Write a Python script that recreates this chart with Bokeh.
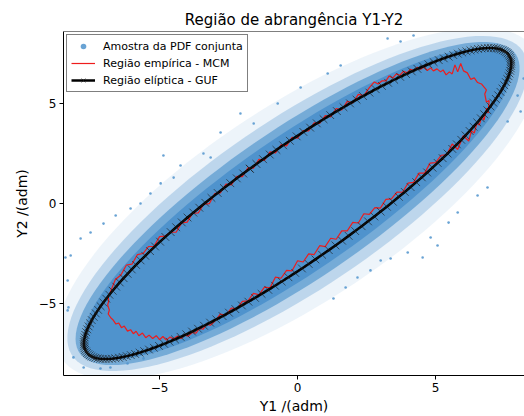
import numpy as np
from bokeh.plotting import figure
from bokeh.models import FixedTicker, Legend, LegendItem, Span
from bokeh.embed import file_html
from bokeh.resources import INLINE

# ---------------- data ----------------
title_text = "Região de abrangência Y1-Y2"
x_label = "Y1 /(adm)"
y_label = "Y2 /(adm)"
tick_values = [-5, 0, 5]
tick_labels = {-5: "−5", 0: "0", 5: "5"}
x_limits = (-8.48, 8.22)
y_limits = (-8.56, 8.56)

# GUF: estimate, covariance matrix and 95 % coverage factor (k^2)
y_hat = [0.0, 0.0]
u_y = [[10.0, 9.0], [9.0, 10.0]]
k2_95 = 5.991
n_ellipse = 200

# Sample cloud (PDF conjunta): envelopes of decreasing density
cloud_a = [11.6, 11.2, 10.9, 10.6]      # semi-axis along major direction
cloud_b = [4.3, 3.7, 3.25, 2.9]         # semi-axis along minor direction
cloud_alpha = [0.1, 0.3, 0.65, 1.0]

# isolated sample points
sample_x = [-4.86, -8.22, -7.86, -7.03, -7.50, -6.59, -5.69, -6.05, -4.96, -4.24, -3.41, -5.33, -4.49,
            3.99, 4.53, 3.37, 5.07, 5.47, 6.52, 6.88, 1.30, 1.74, 2.17, 2.64, 3.01, 4.82, 5.80,
            3.26, 4.20, 3.73, 7.97, 8.08, 7.61, 8.19,
            -8.33, -8.12, -7.75, -6.78, -6.16, -5.58, -7.14,
            -8.41, -8.33, -8.30,
            -2.79, -2.07, -0.72, 0.11, 1.09, 1.56, -1.59, -3.15]
sample_y = [2.39, -2.59, -1.74, -1.00, -1.44, -0.60, 0.00, -0.25, 1.00, 1.89, 2.49, 0.50, 1.29,
            -2.44, -2.69, -2.74, -2.09, -0.95, 0.40, 0.80, -4.73, -4.18, -3.68, -3.33, -2.84, -1.69, -0.45,
            8.21, 8.36, 8.06, 5.37, 4.58, 4.08, 6.22,
            -5.32, -7.66, -8.16, -8.16, -7.96, -7.71, -8.21,
            -2.69, -3.83, -5.17,
            3.53, 4.48, 4.98, 5.77, 6.47, 6.87, 3.98, 2.29]

# empirical (MCM) coverage region boundary
mcm_x = [-6.86, -6.84, -6.88, -6.82, -6.86, -6.76, -6.68, -6.58, -6.48, -6.38, -6.28, -6.16, -6.05,
         -5.95, -5.85, -5.75, -5.62, -5.50, -5.38, -5.25, -5.12, -5.00, -4.88, -4.75, -4.62, -4.50,
         -4.36, -4.22, -4.10, -3.96, -3.82, -3.68, -3.55, -3.42, -3.30, -3.15,
         -3.0, -2.8, -2.6, -2.4, -2.2, -2.0, -1.8, -1.6, -1.4, -1.2, -1.0, -0.8, -0.6, -0.4, -0.2,
         0.0, 0.2, 0.4, 0.6, 0.8, 1.0, 1.2, 1.4, 1.6, 1.8, 2.0, 2.2, 2.4, 2.6, 2.8, 3.0, 3.2, 3.4,
         3.6, 3.8, 4.0, 4.2, 4.4, 4.6, 4.8, 5.0, 5.2, 5.4, 5.6, 5.8, 6.0, 6.2,
         6.30, 6.40, 6.50, 6.58, 6.68, 6.75, 6.85, 6.90, 6.94, 6.84, 6.78, 6.84, 6.66, 6.52, 6.40,
         6.27, 6.15, 6.01, 5.91, 5.80, 5.70, 5.60, 5.50, 5.38, 5.27, 5.18, 5.05, 4.92, 4.82, 4.70,
         4.58, 4.46, 4.34, 4.22, 4.09, 3.96, 3.84, 3.70, 3.58, 3.45, 3.32, 3.20, 3.05, 2.92, 2.78,
         2.6, 2.4, 2.2, 2.0, 1.8, 1.6, 1.4, 1.2, 1.0, 0.8, 0.6, 0.4, 0.2, 0.0,
         -0.2, -0.4, -0.6, -0.8, -1.0, -1.2, -1.4, -1.6, -1.8, -2.0, -2.2, -2.4, -2.6, -2.8, -3.0,
         -3.2, -3.4, -3.6, -3.8, -4.0, -4.2, -4.4, -4.6, -4.8, -5.0, -5.2, -5.4, -5.6, -5.8, -6.0,
         -6.2, -6.4, -6.6, -6.8, -6.86]
mcm_y = [-4.62, -4.85, -5.05, -5.30, -5.50, -5.70, -5.80, -6.00, -5.95, -6.18, -6.10, -6.35, -6.28,
         -6.48, -6.36, -6.58, -6.45, -6.68, -6.55, -6.72, -6.58, -6.78, -6.62, -6.80, -6.64, -6.74,
         -6.60, -6.72, -6.55, -6.60, -6.42, -6.45, -6.22, -6.25, -6.02, -6.05,
         -5.86, -5.50, -5.57, -5.20, -5.24, -4.87, -4.85, -4.47, -4.55, -4.16, -4.20, -3.66, -3.72,
         -3.33, -3.35,
         -2.85, -2.91, -2.51, -2.54, -2.10, -2.15, -1.73, -1.78, -1.36, -1.36, -0.94, -0.97, -0.51,
         -0.54, -0.21, -0.23, 0.21, 0.23, 0.57, 0.56, 1.01, 1.05, 1.51, 1.51, 2.01, 2.03, 2.40, 2.42,
         2.96, 2.69, 3.37, 3.11,
         3.62, 3.50, 4.02, 3.90, 4.35, 4.15, 4.75, 4.50, 5.12, 5.05, 5.45, 5.65, 5.95, 6.02, 6.25,
         6.18, 6.50, 6.60, 6.97, 6.55, 6.90, 6.45, 6.55, 6.40, 6.65, 6.55, 6.70, 6.60, 6.75, 6.62,
         6.80, 6.68, 6.78, 6.60, 6.68, 6.50, 6.58, 6.38, 6.45, 6.25, 6.35, 6.10, 6.10, 5.95, 6.05,
         5.77, 5.37, 5.43, 5.01, 5.08, 4.66, 4.73, 4.31, 4.37, 3.98, 4.02, 3.61, 3.63, 3.25,
         3.29, 2.87, 2.92, 2.52, 2.57, 2.15, 2.20, 1.76, 1.78, 1.34, 1.35, 0.93, 0.96, 0.53, 0.49,
         -0.01, -0.03, -0.47, -0.48, -0.93, -0.97, -1.43, -1.43, -1.62, -1.65, -2.13, -2.14, -2.49,
         -2.54, -3.02,
         -3.06, -3.56, -3.78, -4.46, -4.62]

legend_labels = ["Amostra da PDF conjunta", "Região empírica - MCM", "Região elíptica - GUF"]

# ---------------- geometry from the GUF data ----------------
cov = np.array(u_y)
w, V = np.linalg.eigh(cov)               # w[0] minor, w[1] major
t = np.linspace(0.0, 2.0 * np.pi, n_ellipse)
unit = np.vstack([np.cos(t), np.sin(t)])
ell = np.array(y_hat)[:, None] + np.sqrt(k2_95) * (V @ (np.sqrt(w)[:, None] * unit))
v_minor, v_major = V[:, 0], V[:, 1]

FONT = "DejaVu Sans"
BLUE = "#4f93cd"

p = figure(width=524, height=416, output_backend="svg", toolbar_location=None,
           x_range=x_limits, y_range=y_limits, title=title_text,
           min_border_left=63, min_border_right=0, min_border_top=31, min_border_bottom=0,
           background_fill_color="white", border_fill_color="white")

# sample cloud
tc = np.linspace(0.0, 2.0 * np.pi, 120)
for a, b, al in zip(cloud_a, cloud_b, cloud_alpha):
    px = y_hat[0] + a * np.cos(tc) * v_major[0] + b * np.sin(tc) * v_minor[0]
    py = y_hat[1] + a * np.cos(tc) * v_major[1] + b * np.sin(tc) * v_minor[1]
    p.patch(px, py, fill_color=BLUE, fill_alpha=al, line_color=None)

r_sample = p.scatter(sample_x, sample_y, marker="circle", size=2.6,
                     fill_color=BLUE, fill_alpha=0.85, line_color=None)
r_mcm = p.line(mcm_x, mcm_y, line_color="#ee1c1c", line_width=1.2)
r_guf_line = p.line(ell[0], ell[1], line_color="black", line_width=2.5)
r_guf_mk = p.scatter(ell[0], ell[1], marker="x", size=11, line_color="#1a1a1a",
                     line_alpha=0.8, line_width=0.8)

# axes / frame
p.grid.visible = False
p.outline_line_color = None
p.add_layout(Span(location=y_limits[1], dimension="width", line_color="black", line_width=1))
for ax in (p.xaxis, p.yaxis):
    ax.ticker = FixedTicker(ticks=tick_values)
    ax.major_label_overrides = tick_labels
    ax.minor_tick_line_color = None
    ax.major_tick_in = 0
    ax.major_tick_out = 4
    ax.major_tick_line_color = "black"
    ax.axis_line_color = "black"
    ax.major_label_text_font = FONT
    ax.major_label_text_font_size = "12px"
    ax.major_label_text_color = "black"
    ax.axis_label_text_font = FONT
    ax.axis_label_text_font_size = "14px"
    ax.axis_label_text_font_style = "normal"
    ax.axis_label_text_color = "black"
    ax.major_label_standoff = 3
    ax.axis_label_standoff = 3
p.xaxis.axis_label = x_label
p.yaxis.axis_label = y_label
p.yaxis.axis_label_standoff = 6

p.title.text_font = FONT
p.title.text_font_size = "15px"
p.title.text_font_style = "normal"
p.title.text_color = "black"
p.title.align = "center"
p.title.standoff = 5

legend = Legend(items=[
    LegendItem(label=legend_labels[0], renderers=[r_sample]),
    LegendItem(label=legend_labels[1], renderers=[r_mcm]),
    LegendItem(label=legend_labels[2], renderers=[r_guf_line, r_guf_mk]),
], location="top_left")
legend.label_text_font = FONT
legend.label_text_font_size = "11px"
legend.label_text_color = "black"
legend.border_line_color = "black"
legend.border_line_width = 1
legend.background_fill_color = "white"
legend.background_fill_alpha = 1.0
legend.glyph_width = 24
legend.glyph_height = 14
legend.label_height = 14
legend.spacing = 3
legend.padding = 4
legend.margin = 3
legend.label_standoff = 8
p.add_layout(legend, "center")

open("out.html", "w").write(file_html(p, INLINE))
